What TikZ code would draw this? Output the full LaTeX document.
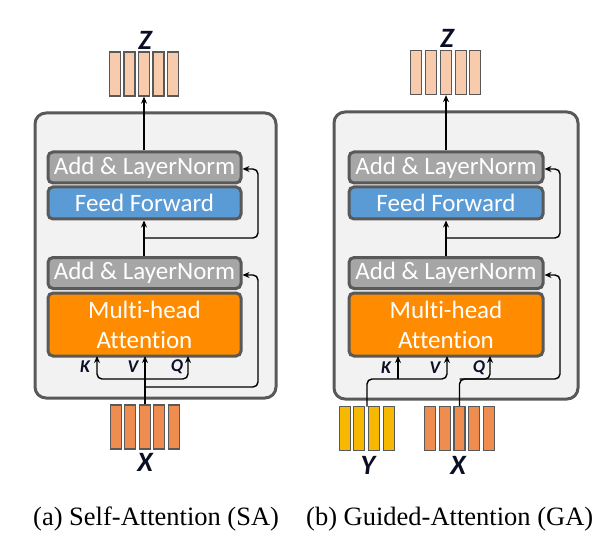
\documentclass[tikz,border=0pt]{standalone}
\usepackage{fontspec}
\setmainfont{Liberation Serif}
\newfontfamily\calib[Ligatures=NoCommon]{Carlito}
\usetikzlibrary{arrows.meta}
\definecolor{bord}{HTML}{595959}
\definecolor{contfill}{HTML}{F2F2F2}
\definecolor{lngray}{HTML}{A6A6A6}
\definecolor{ffblue}{HTML}{5B9BD5}
\definecolor{mhaor}{HTML}{FF8C00}
\definecolor{zpeach}{HTML}{F8CBAD}
\definecolor{xorange}{HTML}{EF8D50}
\definecolor{yyellow}{HTML}{F6B800}
\definecolor{lblcol}{HTML}{0A0F26}
\tikzset{
  container/.style={draw=bord, fill=contfill, line width=3pt, rounded corners=11pt, inner sep=0pt},
  blk/.style={draw=bord, line width=3pt, rounded corners=5pt, text=white, inner sep=0pt, minimum width=193pt, font=\calib\fontsize{25}{27}\selectfont, align=center},
  lnbox/.style={blk, fill=lngray, minimum height=31pt},
  ffbox/.style={blk, fill=ffblue, minimum height=32pt},
  mhabox/.style={blk, fill=mhaor, minimum height=63pt, font=\calib\fontsize{25}{30}\selectfont},
  bar/.style={draw=bord, line width=1.3pt, inner sep=0pt, minimum width=11pt, minimum height=44pt},
  zbar/.style={bar, fill=zpeach},
  xbar/.style={bar, fill=xorange},
  ybar/.style={bar, fill=yyellow},
  biglbl/.style={font=\calib\bfseries\itshape\fontsize{28}{28}\selectfont, text=lblcol, inner sep=0pt},
  smlbl/.style={font=\calib\bfseries\itshape\fontsize{18}{18}\selectfont, text=lblcol, inner sep=0pt},
  conn/.style={line width=1.4pt, -{Stealth[length=7pt,width=6pt]}},
  caption/.style={font=\fontsize{26.5}{28}\selectfont, inner sep=0pt}
}
\begin{document}
\begin{tikzpicture}[x=1pt,y=-1pt]
\useasboundingbox[fill=white] (0,0) rectangle (615,537);
% ================= (a) Self-Attention =================
\node[container, minimum width=241pt, minimum height=285pt] (ca) at (155.5,255.5) {};
\node[lnbox] (aln1) at (144.5,167.5) {Add \& LayerNorm};
\node[ffbox] (aff) at (144.5,203) {Feed Forward};
\node[lnbox] (aln2) at (144.5,273) {Add \& LayerNorm};
\node[mhabox] (amha) at (144.5,324.5) {Multi-head\\Attention};
% Z bars
\foreach \i/\xx in {1/115,2/129.5,3/144,4/158.5,5/173}{
  \node[zbar] (az\i) at (\xx,74) {};
}
\node[biglbl] (azl) at (145,40) {Z};
% X bars
\foreach \i/\xx in {1/116,2/130.2,3/145,4/159.2,5/173.8}{
  \node[xbar] (ax\i) at (\xx,427) {};
}
\node[biglbl] (axl) at (145,462) {X};
% labels
\node[smlbl] (akl) at (85,367) {K};
\node[smlbl] (avl) at (133,367) {V};
\node[smlbl] (aql) at (177,367) {Q};
% coordinates
\coordinate (aM) at (145,379);
\coordinate (aKb) at (97,379);
\coordinate (aQb) at (188,379);
\coordinate (aKt) at (97,356);
\coordinate (aQt) at (188,356);
\coordinate (aVt) at (145,356);
\coordinate (aR1s) at (145,238);
\coordinate (aR1c) at (258,238);
\coordinate (aR1u) at (258,169);
\coordinate (aR2s) at (145,387);
\coordinate (aR2c) at (258,387);
\coordinate (aR2u) at (258,275);
% connectors
\draw[conn] (aln1.north -| az3) -- (az3.south);
\draw[conn] (aln2.north -| az3) -- (aff.south -| az3);
\draw[conn] (ax3.north) -- (aVt);
\draw[conn, rounded corners=5pt] (aM) -- (aKb) -- (aKt);
\draw[conn, rounded corners=5pt] (aM) -- (aQb) -- (aQt);
\draw[conn, rounded corners=5pt] (aR1s) -- (aR1c) -- (aR1u) -- (aln1.east |- aR1u);
\draw[conn, rounded corners=5pt] (aR2s) -- (aR2c) -- (aR2u) -- (aln2.east |- aR2u);
\node[caption, anchor=west] (capa) at (33,519) {(a) Self-Attention (SA)};
% ================= (b) Guided-Attention =================
\node[container, minimum width=244pt, minimum height=287pt] (cb) at (456,255.5) {};
\node[lnbox, minimum width=194pt] (bln1) at (446,167.5) {Add \& LayerNorm};
\node[ffbox, minimum width=194pt] (bff) at (446,203) {Feed Forward};
\node[lnbox, minimum width=194pt] (bln2) at (446,273) {Add \& LayerNorm};
\node[mhabox, minimum width=194pt] (bmha) at (446,324.5) {Multi-head\\Attention};
\foreach \i/\xx in {1/416,2/431,3/446,4/461,5/475}{
  \node[zbar] (bz\i) at (\xx,72.5) {};
}
\node[biglbl] (bzl) at (447,38) {Z};
\foreach \i/\xx in {1/345,2/359.2,3/374,4/388.7}{
  \node[ybar] (by\i) at (\xx,428.5) {};
}
\node[biglbl] (byl) at (368,465) {Y};
\foreach \i/\xx in {1/430,2/444.8,3/459.5,4/474.2,5/488.7}{
  \node[xbar] (bx\i) at (\xx,428.5) {};
}
\node[biglbl] (bxl) at (458,465) {X};
\node[smlbl] (bkl) at (386,368) {K};
\node[smlbl] (bvl) at (435,368) {V};
\node[smlbl] (bql) at (479,368) {Q};
\coordinate (bYs) at (367,406.5);
\coordinate (bYc) at (367,379);
\coordinate (bVc) at (447,379);
\coordinate (bVt) at (447,356);
\coordinate (bKb) at (398,379);
\coordinate (bKt) at (398,356);
\coordinate (bXc) at (459.5,379);
\coordinate (bQb) at (490,379);
\coordinate (bQt) at (490,356);
\coordinate (bRc) at (560,379);
\coordinate (bR2u) at (560,275);
\coordinate (bR1s) at (446,238);
\coordinate (bR1c) at (560,238);
\coordinate (bR1u) at (560,169);
\draw[conn] (bln1.north) -- (bz3.south);
\draw[conn] (bln2.north) -- (bff.south);
\draw[conn, rounded corners=5pt] (bYs) -- (bYc) -- (bVc) -- (bVt);
\draw[conn] (bKb) -- (bKt);
\draw[conn, rounded corners=5pt] (bx3.north) -- (bXc) -- (bRc) -- (bR2u) -- (bln2.east |- bR2u);
\draw[conn, rounded corners=5pt] (bXc) -- (bQb) -- (bQt);
\draw[conn, rounded corners=5pt] (bR1s) -- (bR1c) -- (bR1u) -- (bln1.east |- bR1u);
\node[caption, anchor=west] (capb) at (306,519) {(b) Guided-Attention (GA)};
\end{tikzpicture}
\end{document}
